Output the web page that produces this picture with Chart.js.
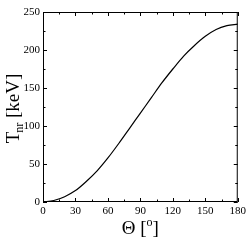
<!DOCTYPE html>
<html>
<head>
<meta charset="utf-8">
<script src="https://cdn.jsdelivr.net/npm/chart.js@4"></script>
<style>
  html, body { margin: 0; padding: 0; background: #fff; }
  #wrap { width: 249px; height: 244px; }
</style>
</head>
<body>
<div id="wrap"><canvas id="chart" width="249" height="244"></canvas></div>
<script>
// angle (degrees) and recoil energy (keV)
const angles = [0, 10, 20, 30, 40, 50, 60, 70, 80, 90, 100, 110, 120, 130, 140, 150, 160, 170, 180];
const energy = [0, 2, 7, 15, 27, 41, 58, 77, 97, 117, 137, 157, 175, 192, 206, 218, 227, 232, 234];

const serif = "'Liberation Serif', 'DejaVu Serif', serif";

// inward ticks on all four sides + frame + axis titles
const framePlugin = {
  id: 'frame',
  afterDraw(chart) {
    const { ctx, chartArea: { left, right, top, bottom } } = chart;
    const xs = chart.scales.x, ys = chart.scales.y;
    ctx.save();
    ctx.strokeStyle = '#000';
    ctx.lineWidth = 1;
    ctx.strokeRect(left + 0.5, top + 0.5, right - left - 1, bottom - top - 1);

    xs.ticks.forEach(t => {
      const len = t.value % 30 === 0 ? 4 : 2.5;
      const px = Math.round(xs.getPixelForValue(t.value)) + 0.5;
      ctx.beginPath();
      ctx.moveTo(px, bottom); ctx.lineTo(px, bottom - len);
      ctx.moveTo(px, top);    ctx.lineTo(px, top + len);
      ctx.stroke();
    });
    ys.ticks.forEach(t => {
      const len = t.value % 50 === 0 ? 4 : 2.5;
      const py = Math.round(ys.getPixelForValue(t.value)) + 0.5;
      ctx.beginPath();
      ctx.moveTo(left, py);  ctx.lineTo(left + len, py);
      ctx.moveTo(right, py); ctx.lineTo(right - len, py);
      ctx.stroke();
    });

    ctx.fillStyle = '#000';
    ctx.textBaseline = 'alphabetic';
    const big = '19px ' + serif, small = '12px ' + serif;

    // y title: T_nr [keV]
    ctx.save();
    ctx.translate(19, 108);
    ctx.rotate(-Math.PI / 2);
    ctx.font = big;  const wT = ctx.measureText('T').width;
    const wRest = ctx.measureText(' [keV]').width;
    ctx.font = small; const wSub = ctx.measureText('nr').width;
    let x0 = -(wT + wSub + wRest) / 2;
    ctx.font = big;   ctx.fillText('T', x0, 0);
    ctx.font = small; ctx.fillText('nr', x0 + wT - 1, 4);
    ctx.font = big;   ctx.fillText(' [keV]', x0 + wT + wSub - 1, 0);
    ctx.restore();

    // x title: Θ [°]
    const a = 'Θ [', b = ']';
    ctx.font = small; const wo = ctx.measureText('o').width;
    ctx.font = big;
    const wa = ctx.measureText(a).width, wb = ctx.measureText(b).width;
    let xx = (left + right) / 2 - (wa + wo + wb) / 2;
    const yy = 234;
    ctx.fillText(a, xx, yy);
    ctx.font = small; ctx.fillText('o', xx + wa, yy - 8);
    ctx.font = big;   ctx.fillText(b, xx + wa + wo, yy);
    ctx.restore();
  }
};

new Chart(document.getElementById('chart').getContext('2d'), {
  type: 'line',
  data: {
    labels: angles,
    datasets: [{
      data: angles.map((a, i) => ({ x: a, y: energy[i] })),
      borderColor: '#000',
      borderWidth: 1.2,
      pointRadius: 0,
      fill: false,
      cubicInterpolationMode: 'monotone'
    }]
  },
  options: {
    responsive: false,
    animation: false,
    layout: { padding: { top: 12, right: 11, left: 0, bottom: 0 } },
    plugins: { legend: { display: false }, tooltip: { enabled: false } },
    scales: {
      x: {
        type: 'linear', min: 0, max: 180,
        afterFit: s => { s.height = 42; },
        grid: { drawOnChartArea: false, drawTicks: false },
        border: { display: false },
        ticks: {
          stepSize: 15, padding: 3, color: '#000', maxRotation: 0, autoSkip: false,
          font: { family: serif, size: 11 },
          callback: v => v % 30 === 0 ? v : ''
        }
      },
      y: {
        min: 0, max: 250,
        afterFit: s => { s.width = 43; },
        grid: { drawOnChartArea: false, drawTicks: false },
        border: { display: false },
        ticks: {
          stepSize: 25, padding: 3, color: '#000', autoSkip: false,
          font: { family: serif, size: 11 },
          callback: v => v % 50 === 0 ? v : ''
        }
      }
    }
  },
  plugins: [framePlugin]
});
</script>
</body>
</html>
